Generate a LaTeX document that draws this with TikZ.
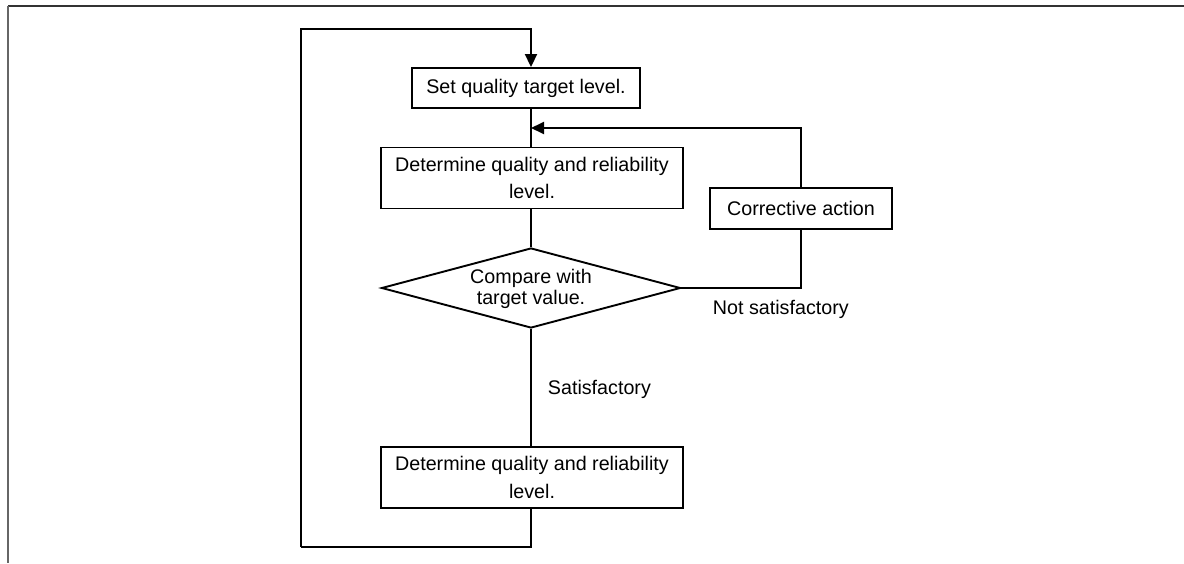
\documentclass[tikz,border=0pt]{standalone}
\usepackage{fontspec}
\setmainfont{Liberation Sans}
\usetikzlibrary{shapes.geometric,arrows.meta}
\begin{document}
\begin{tikzpicture}[x=1pt,y=-1pt,
  line width=1.9pt,
  txt/.style={font=\fontsize{19.7}{27.6}\selectfont, align=center},
  box/.style={txt, draw, rectangle, inner sep=0pt, line width=1.9pt},
  lab/.style={font=\fontsize{19.7}{24}\selectfont, inner sep=0pt, anchor=base west},
  arr/.style={-{Triangle[length=13pt,width=12pt]}}
]
\useasboundingbox (0,0) rectangle (1184,563);
% page frame
\draw[black!80, line width=2pt] (8,6) -- (1184,6);
\draw[black!60, line width=2pt] (8,6) -- (8,563);

% nodes
\node[box, minimum width=228pt, minimum height=40pt] (set) at (526,88) {Set quality target level.};
\node[box, minimum width=302pt, minimum height=61pt] (det1) at (532,178) {Determine quality and reliability\\level.};
\node[draw, diamond, minimum width=299pt, minimum height=80pt, inner sep=0pt] (cmp) at (531,288) {};
\node[font=\fontsize{19.7}{20.5}\selectfont, align=center, inner sep=0pt] (cmptxt) at (531,289) {Compare with\\target value.};
\node[box, minimum width=182pt, minimum height=41pt] (cor) at (801,208.5) {Corrective action};
\node[box, minimum width=302pt, minimum height=61pt] (det2) at (532,477.5) {Determine quality and reliability\\level.};

\node[lab] (ns) at (712,314) {Not satisfactory};
\node[lab] (sat) at (547,394) {Satisfactory};

% helper coordinates
\coordinate (ax) at (531,0);
\coordinate (looptop) at (301,29);
\coordinate (loopbot) at (301,547);
\coordinate (ret) at (531,128);

% connectors
\draw[arr] (loopbot) -- (looptop) -- (looptop -| ax) -- (set.north -| ax);
\draw (set.south -| ax) -- (det1.north -| ax);
\draw (det1.south -| ax) -- (cmp.north);
\draw (cmp.south) -- (det2.north -| ax);
\draw (det2.south -| ax) |- (loopbot);
\draw (cmp.east) -| (cor.south);
\draw[arr] (cor.north) |- (ret);
\end{tikzpicture}
\end{document}
